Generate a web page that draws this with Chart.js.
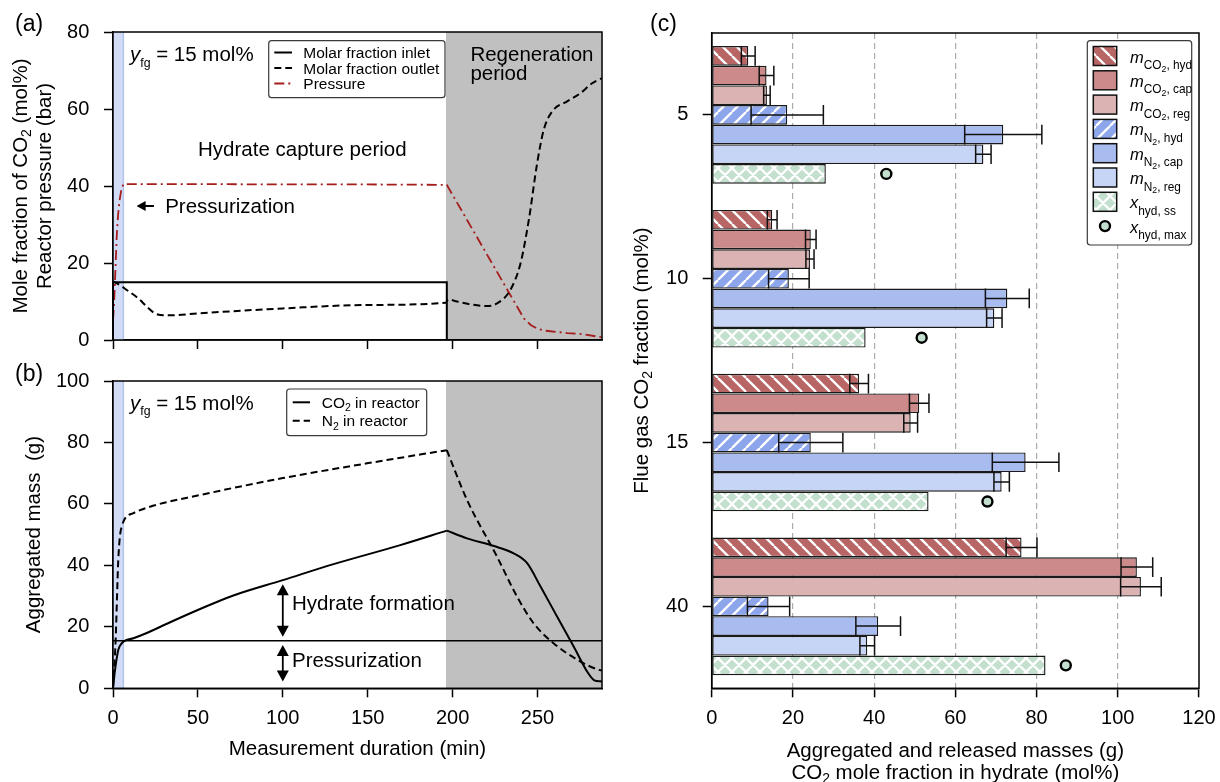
<!DOCTYPE html>
<html><head><meta charset="utf-8"><title>Hydrate-based CO2 capture</title>
<script src="https://cdn.jsdelivr.net/npm/chart.js@4.4.1/dist/chart.umd.min.js"></script>
<style>
html,body{margin:0;padding:0;background:#fff}
body{width:1220px;height:782px;position:relative;overflow:hidden}
canvas{position:absolute;display:block}
</style></head>
<body>
<canvas id="ca" width="620" height="360" style="left:0px;top:0px"></canvas>
<canvas id="cb" width="620" height="422" style="left:0px;top:360px"></canvas>
<canvas id="cc" width="600" height="782" style="left:620px;top:0px"></canvas>
<script>
// ================= DATA =================
// (a) CO2 molar fraction (mol%) and reactor pressure (bar) vs. time (min)
const inletTime  = [0, 0, 196.6, 196.6, 288];
const inletFrac  = [0, 15, 15, 0, 0];
const outletTime = [0, 5, 8.1, 12, 15.9, 20, 25.8, 33.6, 50, 100, 150, 196, 197.5, 202.6, 210, 219.3, 226.2, 234, 240, 244.9, 249.8, 253.7, 258.7, 267.5, 275.3, 282.2, 288];
const outletFrac = [15.2, 14.0, 13.0, 11.8, 10.4, 8.6, 6.7, 6.4, 6.9, 8.2, 9.1, 9.7, 10.5, 10.0, 9.3, 8.8, 9.5, 13.0, 19.9, 31.2, 45.9, 54.6, 59.4, 62.0, 64.1, 66.7, 68.0];
const pressureTime = [0, 0.6, 1.4, 2.2, 3.0, 3.8, 4.8, 6.1, 50, 100, 150, 196.6, 234, 242, 246, 250, 255, 267.5, 275, 285.2, 288];
const pressureBar  = [5.2, 9.0, 18.0, 27.0, 32.5, 36.0, 38.8, 40.5, 40.5, 40.4, 40.4, 40.3, 11.7, 5.6, 3.9, 2.9, 2.4, 1.8, 1.6, 0.9, 0.7];
// (b) aggregated mass (g) vs. time (min)
const co2Time = [0, 1.2, 3.1, 5.1, 7.1, 12, 19.9, 31.7, 51.3, 70.9, 100, 129.9, 169.2, 196.6, 208.5, 224.3, 236, 243.9, 251.8, 261.6, 271.4, 279.3, 283.2, 288];
const co2Mass = [0, 6, 12.5, 14.6, 15.5, 16.3, 18.0, 21.0, 25.8, 30.2, 35.2, 40.4, 46.6, 51.3, 48.8, 46.3, 43.9, 40.7, 33.1, 23.3, 13.5, 5.4, 2.7, 2.2];
const n2Time  = [0, 1.5, 3.1, 4.2, 5.1, 7.1, 12, 21.8, 51.3, 100, 149.6, 196.6, 208.5, 226.2, 238, 247.8, 259.6, 275.3, 286.2, 288];
const n2Mass  = [0, 15, 41.7, 50, 52.5, 55.3, 57, 59.1, 62.9, 68.4, 73.2, 77.5, 61.3, 42.8, 29.8, 21.1, 14.6, 8.7, 6.0, 5.8];
const pressurizedTime = [0, 288];
const pressurizedMass = [15.5, 15.5];
// periods (min)
const pressurizationPeriod = [0, 6.1];
const regenerationPeriod = [196.1, 288];
const regenerationStart = 196.6;
// (c) flue gas CO2 fraction categories and masses (g) / fractions (mol%)
const flueGasFractions = ['5', '10', '15', '40'];
const mCO2hyd = [9.0, 14.9, 36.3, 76.3];   const mCO2hydErr = [1.7, 1.2, 2.3, 3.8];
const mCO2cap = [13.5, 24.4, 51.1, 104.7]; const mCO2capErr = [1.8, 1.3, 2.4, 3.9];
const mCO2reg = [13.6, 24.2, 49.0, 105.7]; const mCO2regErr = [0.8, 1.0, 1.7, 5.0];
const mN2hyd  = [18.6, 19.0, 24.4, 14.0];  const mN2hydErr  = [8.9, 5.0, 7.9, 5.2];
const mN2cap  = [71.8, 72.8, 77.3, 41.0];  const mN2capErr  = [9.5, 5.4, 8.2, 5.5];
const mN2reg  = [66.9, 69.6, 71.4, 38.3];  const mN2regErr  = [1.9, 1.9, 1.9, 1.8];
const xHydSS  = [28.1, 37.9, 53.4, 82.2];
const xHydMax = [43.0, 51.7, 67.9, 87.2];
const seriesNames = ['m_CO2,hyd', 'm_CO2,cap', 'm_CO2,reg', 'm_N2,hyd', 'm_N2,cap', 'm_N2,reg', 'x_hyd,ss'];
const seriesRich  = ['*m*_{CO_{2}, hyd}', '*m*_{CO_{2}, cap}', '*m*_{CO_{2}, reg}', '*m*_{N_{2}, hyd}', '*m*_{N_{2}, cap}', '*m*_{N_{2}, reg}', '*x*_{hyd, ss}'];
const maxRich = '*x*_{hyd, max}';

// ================= HELPERS =================
const FONT = '"Liberation Sans", Arial, Helvetica, sans-serif';
Chart.defaults.font.family = FONT;
Chart.defaults.color = '#000';
const RED = '#a51c1c';

function parseRich(s) {
  const out = []; let lvl = 0, it = false, buf = '';
  const flush = () => { if (buf) { out.push({t: buf, i: it, l: lvl}); buf = ''; } };
  for (let k = 0; k < s.length; k++) {
    const c = s[k];
    if (c === '_' && s[k + 1] === '{') { flush(); lvl++; k++; }
    else if (c === '}') { flush(); lvl--; }
    else if (c === '*') { flush(); it = !it; }
    else buf += c;
  }
  flush(); return out;
}
function drawRich(ctx, s, x, y, size, o = {}) {
  const sc = [1, o.s1 ?? 0.68, o.s2 ?? 0.5];
  const dr = [0, o.d1 ?? 0.2, o.d2 ?? 0.34];
  let w = 0;
  const items = parseRich(s).map(p => {
    const L = Math.min(p.l, 2);
    const f = (p.i ? 'italic ' : '') + (size * sc[L]) + 'px ' + FONT;
    ctx.font = f; const pw = ctx.measureText(p.t).width; w += pw;
    return {t: p.t, f, pw, dy: size * dr[L]};
  });
  let cx = o.align === 'center' ? x - w / 2 : (o.align === 'right' ? x - w : x);
  ctx.save(); ctx.fillStyle = o.color || '#000'; ctx.textAlign = 'left'; ctx.textBaseline = 'alphabetic';
  for (const q of items) { ctx.font = q.f; ctx.fillText(q.t, cx, y + q.dy); cx += q.pw; }
  ctx.restore();
}
function drawRot(ctx, s, x, y, size, o = {}) {
  ctx.save(); ctx.translate(x, y); ctx.rotate(-Math.PI / 2);
  drawRich(ctx, s, 0, 0, size, Object.assign({align: 'center'}, o));
  ctx.restore();
}
function head(ctx, x, y, ang, len, wid) {
  const c = Math.cos(ang), s = Math.sin(ang);
  ctx.beginPath(); ctx.moveTo(x, y);
  ctx.lineTo(x - len * c + wid / 2 * s, y - len * s - wid / 2 * c);
  ctx.lineTo(x - len * c - wid / 2 * s, y - len * s + wid / 2 * c);
  ctx.closePath(); ctx.fill();
}
function arrow(ctx, x1, y1, x2, y2, both, len, wid, lw) {
  const ang = Math.atan2(y2 - y1, x2 - x1), c = Math.cos(ang), s = Math.sin(ang);
  ctx.save(); ctx.strokeStyle = '#000'; ctx.fillStyle = '#000'; ctx.lineWidth = lw;
  ctx.beginPath();
  ctx.moveTo(both ? x1 + len * 0.8 * c : x1, both ? y1 + len * 0.8 * s : y1);
  ctx.lineTo(x2 - len * 0.8 * c, y2 - len * 0.8 * s); ctx.stroke();
  head(ctx, x2, y2, ang, len, wid);
  if (both) head(ctx, x1, y1, ang + Math.PI, len, wid);
  ctx.restore();
}
function box(ctx, x, y, w, h) {
  const r = 3;
  ctx.save(); ctx.beginPath();
  ctx.moveTo(x + r, y); ctx.lineTo(x + w - r, y); ctx.arcTo(x + w, y, x + w, y + r, r);
  ctx.lineTo(x + w, y + h - r); ctx.arcTo(x + w, y + h, x + w - r, y + h, r);
  ctx.lineTo(x + r, y + h); ctx.arcTo(x, y + h, x, y + h - r, r);
  ctx.lineTo(x, y + r); ctx.arcTo(x, y, x + r, y, r); ctx.closePath();
  ctx.fillStyle = '#fff'; ctx.fill(); ctx.strokeStyle = '#3a3a3a'; ctx.lineWidth = 1.2; ctx.stroke();
  ctx.restore();
}
function frame(chart) {
  const {ctx, chartArea: a} = chart;
  ctx.save(); ctx.strokeStyle = '#000'; ctx.lineWidth = 1.5;
  ctx.strokeRect(a.left, a.top, a.width, a.height); ctx.restore();
}
function legendLine(ctx, x1, x2, y, color, dash, lw) {
  ctx.save(); ctx.strokeStyle = color; ctx.lineWidth = lw; ctx.setLineDash(dash);
  ctx.beginPath(); ctx.moveTo(x1, y); ctx.lineTo(x2, y); ctx.stroke(); ctx.restore();
}
const pts = (xs, ys) => xs.map((t, i) => ({x: t, y: ys[i]}));
const ptsBefore = (xs, ys, t0) => pts(xs, ys).filter(p => p.x <= t0);
const ptsAfter  = (xs, ys, t0) => pts(xs, ys).filter(p => p.x >= t0);

const bandsPlugin = {
  id: 'bands',
  beforeDatasetsDraw(chart) {
    const {ctx, chartArea: a, scales: {x}} = chart;
    ctx.save(); ctx.beginPath(); ctx.rect(a.left, a.top, a.width, a.height); ctx.clip();
    const p0 = x.getPixelForValue(pressurizationPeriod[0]), p1 = x.getPixelForValue(pressurizationPeriod[1]);
    ctx.fillStyle = '#d3dcf6'; ctx.fillRect(p0, a.top, p1 - p0, a.height);
    ctx.strokeStyle = '#b4c3ee'; ctx.lineWidth = 1.5;
    ctx.beginPath(); ctx.moveTo(p1, a.top); ctx.lineTo(p1, a.bottom); ctx.stroke();
    const g0 = x.getPixelForValue(regenerationPeriod[0]), g1 = x.getPixelForValue(regenerationPeriod[1]);
    ctx.fillStyle = '#c0c0c0'; ctx.fillRect(g0, a.top, g1 - g0, a.height);
    ctx.restore();
  }
};

function timeScales(yMax, xHeight, showXLabels) {
  const grid = {drawOnChartArea: false, drawTicks: true, tickLength: 9, tickColor: '#000', tickWidth: 1.5};
  return {
    x: {type: 'linear', min: 0, max: 288,
        ticks: {stepSize: 50, includeBounds: false, display: showXLabels, font: {size: 20}, padding: 9, maxRotation: 0},
        grid: grid, border: {display: true, color: '#000', width: 1.5},
        afterFit: s => { s.height = xHeight; s.paddingLeft = 0; s.paddingRight = 0; }},
    y: {type: 'linear', min: 0, max: yMax,
        ticks: {stepSize: 20, font: {size: 20}, padding: 14.7},
        grid: grid, border: {display: true, color: '#000', width: 1.5},
        afterFit: s => { s.width = 113; s.paddingTop = 0; s.paddingBottom = 0; }}
  };
}
const lineBase = {pointRadius: 0, fill: false, borderWidth: 2};

// ================= PANEL (a) =================
new Chart(document.getElementById('ca'), {
  type: 'line',
  data: {datasets: [
    Object.assign({label: 'Molar fraction inlet', data: pts(inletTime, inletFrac), borderColor: '#000', tension: 0}, lineBase),
    Object.assign({label: 'Molar fraction outlet', data: pts(outletTime, outletFrac), borderColor: '#000', borderDash: [7, 4], cubicInterpolationMode: 'monotone'}, lineBase),
    Object.assign({label: 'Pressure', data: pts(pressureTime, pressureBar), borderColor: RED, borderDash: [10, 4, 2, 4], tension: 0}, lineBase, {borderWidth: 1.8})
  ]},
  options: {responsive: false, animation: false, events: [],
    layout: {padding: {left: 0, top: 32, right: 18, bottom: 0}},
    scales: timeScales(80, 20, false),
    plugins: {legend: {display: false}, tooltip: {enabled: false}}},
  plugins: [bandsPlugin, {id: 'decoA', afterDraw(chart) {
    const {ctx, scales: {x, y}} = chart;
    const X = v => x.getPixelForValue(v), Y = v => y.getPixelForValue(v);
    frame(chart);
    drawRich(ctx, '*y*_{fg} = 15 mol%', X(10), Y(72.4), 20.5, {s1: 0.6, d1: 0.27});
    drawRich(ctx, 'Hydrate capture period', X(50.1), Y(47.7), 20.5);
    arrow(ctx, X(24.1), Y(34.8), X(13.9), Y(34.8), false, 9, 10, 2);
    drawRich(ctx, 'Pressurization', X(30.7), Y(33.0), 20.5);
    drawRich(ctx, 'Regeneration', X(210.5), Y(72.4), 20.5);
    drawRich(ctx, 'period', X(210.5), Y(67.6), 20.5);
    // legend
    box(ctx, 268.7, 40.7, 176.3, 57);
    const rows = [['Molar fraction inlet', '#000', []], ['Molar fraction outlet', '#000', [7, 4]], ['Pressure', RED, [10, 4, 2, 4]]];
    rows.forEach((r, i) => {
      const cy = 52.5 + 15.5 * i;
      legendLine(ctx, 274.3, 292, cy, r[1], r[2], 2);
      drawRich(ctx, r[0], 303.3, cy + 5.5, 15.5);
    });
    drawRot(ctx, 'Mole fraction of CO_{2} (mol%)', 27, 186, 20.5);
    drawRot(ctx, 'Reactor pressure (bar)', 50.5, 186, 20.5);
    drawRich(ctx, '(a)', 15, 31, 23);
  }}]
});

// ================= PANEL (b) =================
new Chart(document.getElementById('cb'), {
  type: 'line',
  data: {datasets: [
    Object.assign({label: 'CO2 in reactor', data: ptsBefore(co2Time, co2Mass, regenerationStart), borderColor: '#000', cubicInterpolationMode: 'monotone'}, lineBase),
    Object.assign({label: 'CO2 in reactor (regeneration)', data: ptsAfter(co2Time, co2Mass, regenerationStart), borderColor: '#000', cubicInterpolationMode: 'monotone'}, lineBase),
    Object.assign({label: 'N2 in reactor', data: ptsBefore(n2Time, n2Mass, regenerationStart), borderColor: '#000', borderDash: [7, 4], cubicInterpolationMode: 'monotone'}, lineBase),
    Object.assign({label: 'N2 in reactor (regeneration)', data: ptsAfter(n2Time, n2Mass, regenerationStart), borderColor: '#000', borderDash: [7, 4], cubicInterpolationMode: 'monotone'}, lineBase),
    Object.assign({label: 'Pressurization level', data: pts(pressurizedTime, pressurizedMass), borderColor: '#000', tension: 0}, lineBase, {borderWidth: 1.5})
  ]},
  options: {responsive: false, animation: false, events: [],
    layout: {padding: {left: 0, top: 21, right: 18, bottom: 0}},
    scales: timeScales(100, 93.7, true),
    plugins: {legend: {display: false}, tooltip: {enabled: false}}},
  plugins: [bandsPlugin, {id: 'decoB', afterDraw(chart) {
    const {ctx, scales: {x, y}} = chart;
    const X = v => x.getPixelForValue(v), Y = v => y.getPixelForValue(v);
    frame(chart);
    drawRich(ctx, '*y*_{fg} = 15 mol%', X(10), Y(90.7), 20.5, {s1: 0.6, d1: 0.27});
    arrow(ctx, X(100), Y(16.8), X(100), Y(33.9), true, 11, 12, 1.8);
    arrow(ctx, X(100), Y(2.2), X(100), Y(14.1), true, 11, 12, 1.8);
    drawRich(ctx, 'Hydrate formation', X(105.4), Y(25.6), 20.5);
    drawRich(ctx, 'Pressurization', X(105.4), Y(6.8), 20.5);
    box(ctx, 286.7, 29, 140, 46.7);
    const rows = [['CO_{2} in reactor', []], ['N_{2} in reactor', [7, 4]]];
    rows.forEach((r, i) => {
      const cy = 42.3 + 18.4 * i;
      legendLine(ctx, 292.7, 310, cy, '#000', r[1], 2);
      drawRich(ctx, r[0], 321.7, cy + 5.5, 15.5, {s1: 0.68, d1: 0.22});
    });
    drawRot(ctx, 'Aggregated mass  (g)', 40, 174.6, 20.5);
    drawRich(ctx, 'Measurement duration (min)', 357.4, 395, 20.5, {align: 'center'});
    drawRich(ctx, '(b)', 15, 21, 23);
  }}]
});

// ================= PANEL (c) =================
const ctxC = document.getElementById('cc').getContext('2d');
function hatch(bg, kind, s) {
  const c = document.createElement('canvas'); c.width = s; c.height = s;
  const g = c.getContext('2d');
  g.fillStyle = bg; g.fillRect(0, 0, s, s);
  g.strokeStyle = '#ffffff'; g.lineWidth = 2.3; g.beginPath();
  for (let k = -1; k <= 1; k++) {
    if (kind === '\\' || kind === 'x') { g.moveTo(k * s, 0); g.lineTo(k * s + s, s); }
    if (kind === '/' || kind === 'x') { g.moveTo(k * s, s); g.lineTo(k * s + s, 0); }
  }
  g.stroke();
  return ctxC.createPattern(c, 'repeat');
}
const fillsC = [hatch('#b86565', '\\', 14), '#cd8a8a', '#dcb3b3', hatch('#8da6eb', '/', 14), '#a9bcf0', '#c6d4f5', hatch('#c3dfce', 'x', 14)];
const valuesC = [mCO2hyd, mCO2cap, mCO2reg, mN2hyd, mN2cap, mN2reg, xHydSS];
const errorsC = [mCO2hydErr, mCO2capErr, mCO2regErr, mN2hydErr, mN2capErr, mN2regErr, null];

new Chart(ctxC, {
  type: 'bar',
  data: {labels: flueGasFractions, datasets: valuesC.map((v, i) => ({
    label: seriesNames[i], data: v, backgroundColor: fillsC[i], borderColor: '#1a1a1a', borderWidth: 1.4,
    borderSkipped: false, categoryPercentage: 0.84, barPercentage: 1.0
  }))},
  options: {indexAxis: 'y', responsive: false, animation: false, events: [],
    layout: {padding: {left: 0, top: 33, right: 21, bottom: 0}},
    scales: {
      x: {type: 'linear', min: 0, max: 120,
          ticks: {stepSize: 20, font: {size: 20}, padding: 9, maxRotation: 0},
          grid: {color: c => (c.tick && (c.tick.value === 0 || c.tick.value === 120)) ? 'rgba(0,0,0,0)' : '#ababab',
                 lineWidth: 1.2, drawOnChartArea: true, drawTicks: true, tickLength: 9, tickColor: '#000', tickWidth: 1.5, tickBorderDash: []},
          border: {display: true, color: '#000', width: 1.5, dash: [6, 4]},
          afterFit: s => { s.height = 93.7; s.paddingLeft = 0; s.paddingRight = 0; }},
      y: {type: 'category',
          ticks: {font: {size: 20}, padding: 14.4},
          grid: {drawOnChartArea: false, offset: false, drawTicks: true, tickLength: 9, tickColor: '#000', tickWidth: 1.5},
          border: {display: true, color: '#000', width: 1.5},
          afterFit: s => { s.width = 91.7; s.paddingTop = 0; s.paddingBottom = 0; }}
    },
    plugins: {legend: {display: false}, tooltip: {enabled: false}}},
  plugins: [{id: 'decoC',
    afterDatasetsDraw(chart) {
      const {ctx, scales: {x}} = chart;
      ctx.save(); ctx.strokeStyle = '#111'; ctx.lineWidth = 1.5;
      errorsC.forEach((errs, di) => {
        if (!errs) return;
        chart.getDatasetMeta(di).data.forEach((bar, i) => {
          const v = valuesC[di][i];
          const xl = x.getPixelForValue(v - errs[i]), xr = x.getPixelForValue(v + errs[i]);
          const h = bar.height, yc = bar.y;
          ctx.beginPath();
          ctx.moveTo(xl, yc); ctx.lineTo(xr, yc);
          ctx.moveTo(xl, yc - h / 2); ctx.lineTo(xl, yc + h / 2);
          ctx.moveTo(xr, yc - h / 2); ctx.lineTo(xr, yc + h / 2);
          ctx.stroke();
        });
      });
      ctx.restore();
      chart.getDatasetMeta(6).data.forEach((bar, i) => {
        ctx.save(); ctx.beginPath();
        ctx.arc(x.getPixelForValue(xHydMax[i]), bar.y, 5, 0, Math.PI * 2);
        ctx.fillStyle = '#c3dfce'; ctx.fill(); ctx.strokeStyle = '#000'; ctx.lineWidth = 2.4; ctx.stroke();
        ctx.restore();
      });
    },
    afterDraw(chart) {
      const {ctx} = chart;
      frame(chart);
      // legend
      box(ctx, 467.3, 40.7, 104.4, 204.3);
      const rich = {s1: 0.72, d1: 0.4, s2: 0.53, d2: 0.56};
      for (let i = 0; i < 7; i++) {
        const cy = 56 + 24.3 * i;
        ctx.save(); ctx.fillStyle = fillsC[i]; ctx.fillRect(473.3, cy - 9.5, 23.4, 19);
        ctx.strokeStyle = '#111'; ctx.lineWidth = 1.5; ctx.strokeRect(473.3, cy - 9.5, 23.4, 19); ctx.restore();
        drawRich(ctx, seriesRich[i], 510, cy + 6.5, 16.5, rich);
      }
      const cy8 = 56 + 24.3 * 7;
      ctx.save(); ctx.beginPath(); ctx.arc(485, cy8, 5, 0, Math.PI * 2);
      ctx.fillStyle = '#c3dfce'; ctx.fill(); ctx.strokeStyle = '#000'; ctx.lineWidth = 2.4; ctx.stroke(); ctx.restore();
      drawRich(ctx, maxRich, 510, cy8 + 6.5, 16.5, rich);
      // titles
      drawRot(ctx, 'Flue gas CO_{2} fraction (mol%)', 28, 360.65, 20.5);
      drawRich(ctx, 'Aggregated and released masses (g)', 335.35, 756.5, 20.5, {align: 'center'});
      drawRich(ctx, 'CO_{2} mole fraction in hydrate (mol%)', 335.35, 778.5, 20.5, {align: 'center'});
      drawRich(ctx, '(c)', 30, 31, 23);
    }
  }]
});
</script>
</body></html>
